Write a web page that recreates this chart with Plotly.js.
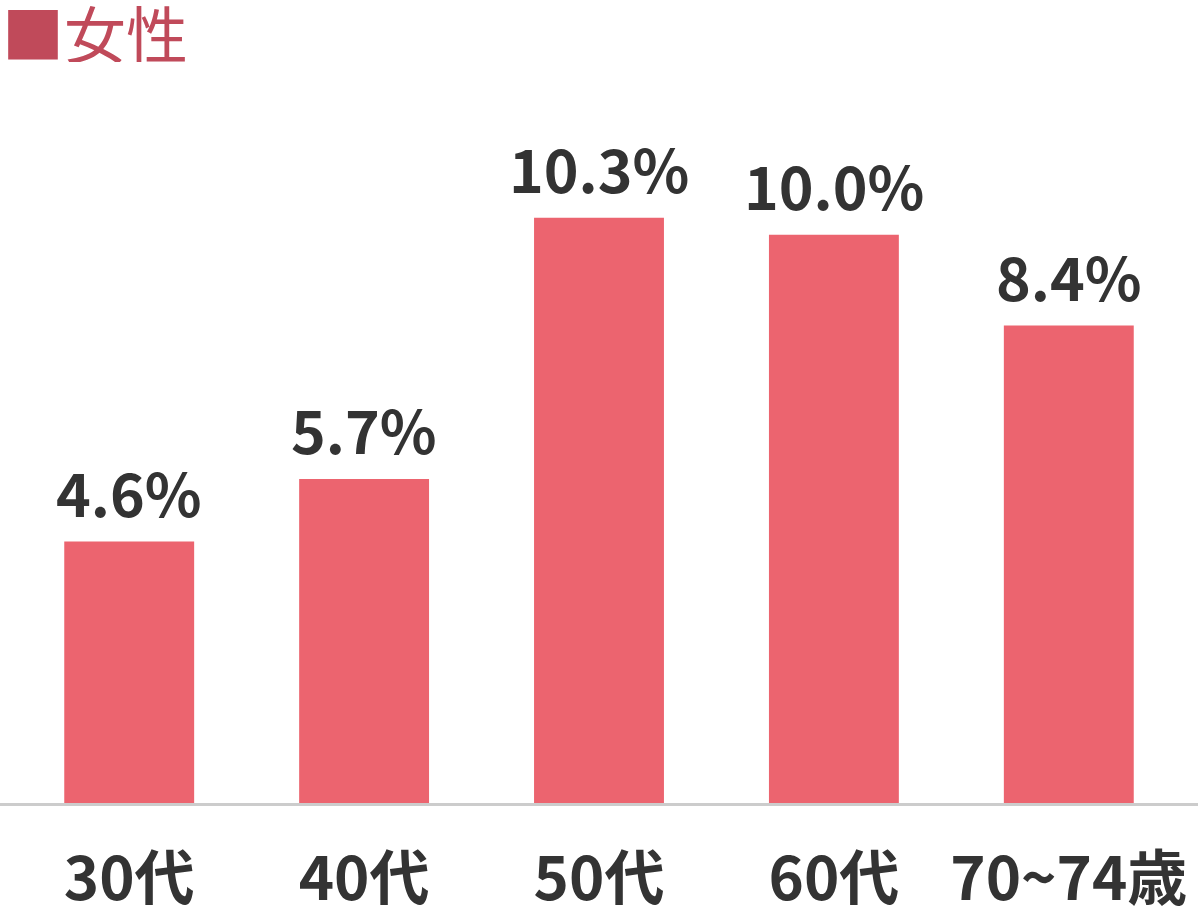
<!DOCTYPE html>
<html><head><meta charset="utf-8">
<script src="https://cdn.plot.ly/plotly-3.0.1.min.js"></script>
<style>html,body{margin:0;padding:0;background:#fff;}#chart{width:1200px;height:920px;}</style>
</head><body><div id="chart"></div>
<script>
const categories = ["30代", "40代", "50代", "60代", "70~74歳"];
const values = [4.6, 5.7, 10.3, 10.0, 8.4];
const labels = ["4.6%", "5.7%", "10.3%", "10.0%", "8.4%"];
const seriesName = "■女性";

const FONT = '"Noto Sans CJK JP", "Noto Sans", sans-serif';

const trace = {
  type: 'bar',
  x: categories,
  y: values,
  marker: {color: '#EC646F', line: {width: 0}},
  width: 0.553,
  hoverinfo: 'none'
};

const annotations = categories.map((c, i) => ({
  x: c, y: values[i], xref: 'x', yref: 'y',
  text: labels[i], showarrow: false,
  xanchor: 'center', yanchor: 'bottom', yshift: 6,
  font: {family: FONT, size: 59, color: '#333333', weight: 'bold'}
}));

annotations.push({
  x: 0, y: 1, xref: 'paper', yref: 'paper',
  text: seriesName, showarrow: false,
  xanchor: 'left', yanchor: 'top', yshift: 100, height: 60, valign: 'middle',
  font: {family: FONT, size: 62, color: '#C04A5A'}
});

const layout = {
  width: 1200, height: 920,
  margin: {l: 0, r: 2, t: 100, b: 117},
  paper_bgcolor: '#ffffff', plot_bgcolor: '#ffffff',
  showlegend: false,
  annotations: annotations,
  xaxis: {
    type: 'category', range: [-0.55, 4.55],
    showline: true, linecolor: '#cccccc', linewidth: 3,
    showgrid: false, zeroline: false, ticks: '',
    tickfont: {family: FONT, size: 60, color: '#333333', weight: 'bold'},
    ticklabelstandoff: 22,
    fixedrange: true
  },
  yaxis: {
    range: [0, 12.37], visible: false, showgrid: false, zeroline: false, fixedrange: true
  }
};
Plotly.newPlot('chart', [trace], layout, {displayModeBar: false, staticPlot: true});
</script>
</body></html>
